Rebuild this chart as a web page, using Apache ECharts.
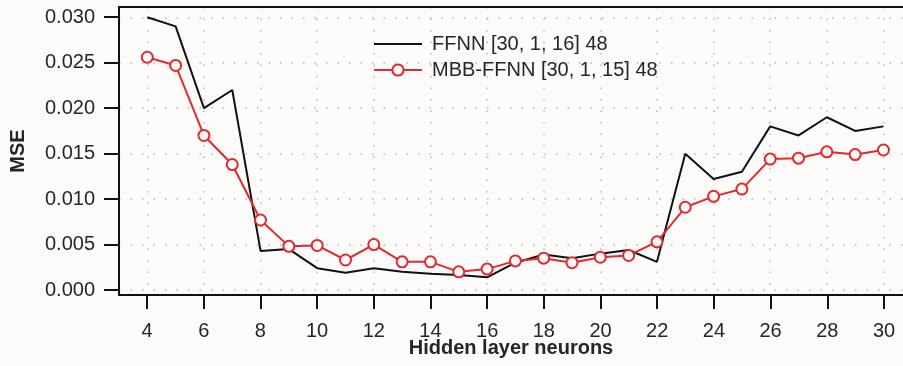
<!DOCTYPE html>
<html>
<head>
<meta charset="utf-8">
<script src="https://cdn.jsdelivr.net/npm/echarts@6/dist/echarts.min.js"></script>
<style>
  html, body { margin: 0; padding: 0; background: #fcfbf9; }
  #chart { width: 903px; height: 366px; }
</style>
</head>
<body>
<div id="chart"></div>
<script>
// hidden layer neurons
const neurons = [4, 5, 6, 7, 8, 9, 10, 11, 12, 13, 14, 15, 16, 17, 18, 19, 20, 21, 22, 23, 24, 25, 26, 27, 28, 29, 30];
const ffnnMse = [0.030, 0.029, 0.020, 0.022, 0.0043, 0.0045, 0.0024, 0.0019, 0.0024, 0.0020, 0.0018, 0.00165, 0.0014,
    0.0030, 0.0039, 0.0035, 0.0040, 0.0044, 0.0031, 0.0150, 0.0122, 0.0130, 0.0180, 0.0170, 0.0190, 0.0175, 0.0180];
const mbbMse = [0.0256, 0.0247, 0.0170, 0.0138, 0.0077, 0.0048, 0.0049, 0.0033, 0.0050, 0.0031, 0.0031, 0.0020, 0.0023,
    0.0032, 0.0035, 0.0030, 0.0036, 0.0038, 0.0053, 0.0091, 0.0103, 0.0111, 0.0144, 0.0145, 0.0152, 0.0149, 0.0154];
const seriesNames = ['FFNN [30, 1, 16] 48', 'MBB-FFNN [30, 1, 15] 48'];

const textColor = '#262626';
const fontFamily = '"Liberation Sans", Arial, sans-serif';
const dotted = { color: '#b8b8b8', type: [1.5, 10], width: 1.5 };
const frameLine = { show: true, onZero: false, lineStyle: { color: '#111', width: 2 } };

const chart = echarts.init(document.getElementById('chart'));
chart.setOption({
    backgroundColor: '#fcfbf9',
    animation: false,
    grid: [
        // plot frame (data lives here), runs off the right edge
        { left: 118, right: 0, top: 7, bottom: 71 },
        // tick range 4..30 / 0..0.030, used for ticks and labels
        { left: 147, right: 19, top: 17, bottom: 76 }
    ],
    legend: {
        orient: 'vertical',
        left: 373,
        top: 34,
        padding: 0,
        itemWidth: 48,
        itemHeight: 14,
        itemGap: 6,
        textStyle: { color: textColor, fontSize: 20, fontFamily: fontFamily, padding: [0, 0, 0, 5] },
        data: [
            { name: seriesNames[0], itemStyle: { opacity: 0 } },
            { name: seriesNames[1] }
        ]
    },
    xAxis: [
        {
            gridIndex: 0,
            type: 'value',
            min: 3,
            max: 30.69,
            minInterval: 2,
            maxInterval: 2,
            name: 'Hidden layer neurons',
            nameLocation: 'middle',
            nameGap: 43,
            nameTextStyle: { color: textColor, fontSize: 20, fontWeight: 'bold', fontFamily: fontFamily },
            axisLine: frameLine,
            axisTick: { show: false },
            axisLabel: { show: false },
            splitLine: { show: true, showMinLine: false, showMaxLine: false, lineStyle: dotted }
        },
        {
            gridIndex: 1,
            type: 'value',
            min: 4,
            max: 30,
            interval: 2,
            offset: 5,
            axisLine: { show: false, onZero: false },
            axisTick: { show: true, length: 14, lineStyle: { color: '#111', width: 2 } },
            axisLabel: { color: textColor, fontSize: 20, fontFamily: fontFamily, margin: 26 },
            splitLine: { show: false }
        },
        {
            // top edge of the frame
            gridIndex: 0,
            type: 'value',
            position: 'top',
            min: 3,
            max: 30.69,
            axisLine: frameLine,
            axisTick: { show: false },
            axisLabel: { show: false },
            splitLine: { show: false }
        }
    ],
    yAxis: [
        {
            gridIndex: 0,
            type: 'value',
            min: -0.00055,
            max: 0.03113,
            minInterval: 0.005,
            maxInterval: 0.005,
            name: 'MSE',
            nameLocation: 'middle',
            nameGap: 91,
            nameTextStyle: { color: textColor, fontSize: 20, fontWeight: 'bold', fontFamily: fontFamily },
            axisLine: frameLine,
            axisTick: { show: false },
            axisLabel: { show: false },
            splitLine: { show: true, showMinLine: false, showMaxLine: false, lineStyle: dotted }
        },
        {
            gridIndex: 1,
            type: 'value',
            min: 0,
            max: 0.030,
            interval: 0.005,
            offset: 29,
            axisLine: { show: false },
            axisTick: { show: true, length: 14, lineStyle: { color: '#111', width: 2 } },
            axisLabel: {
                color: textColor,
                fontSize: 20,
                fontFamily: fontFamily,
                margin: 23,
                formatter: function (v) { return v.toFixed(3); }
            },
            splitLine: { show: false }
        }
    ],
    series: [
        {
            name: seriesNames[0],
            type: 'line',
            xAxisIndex: 0,
            yAxisIndex: 0,
            data: neurons.map((n, i) => [n, ffnnMse[i]]),
            showSymbol: false,
            symbol: 'none',
            lineStyle: { color: '#111', width: 2 },
            itemStyle: { color: '#111' },
            z: 3
        },
        {
            name: seriesNames[1],
            type: 'line',
            xAxisIndex: 0,
            yAxisIndex: 0,
            data: neurons.map((n, i) => [n, mbbMse[i]]),
            symbol: 'circle',
            symbolSize: 11,
            lineStyle: { color: '#e02a2e', width: 2 },
            itemStyle: { color: '#fcfbf9', borderColor: '#e02a2e', borderWidth: 2 },
            z: 4
        }
    ]
});
</script>
</body>
</html>
